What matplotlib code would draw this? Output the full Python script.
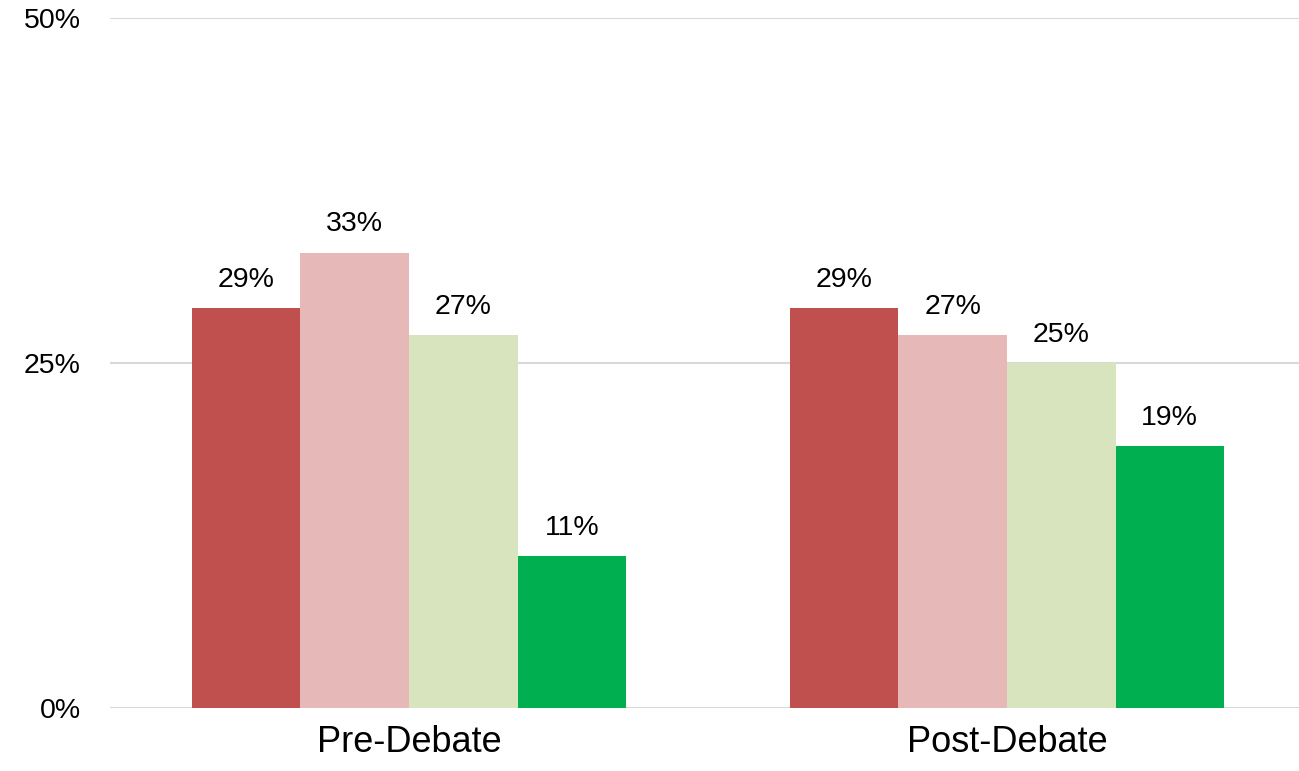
import matplotlib.pyplot as plt
import numpy as np

# data
categories = ["Pre-Debate", "Post-Debate"]
series_colors = ["#C0504D", "#E6B9B8", "#D7E4BD", "#00B050"]
values = [
    [29, 29],
    [33, 27],
    [27, 25],
    [11, 19],
]
yticks = [0, 25, 50]

plt.rcParams['font.family'] = ['Liberation Sans', 'DejaVu Sans']

fig = plt.figure(figsize=(12.99, 7.71), dpi=100)
ax = fig.add_axes([110 / 1299, 1 - 708 / 771, (1306 - 110) / 1299, (708 - 18) / 771])

x = np.arange(len(categories))
w = 0.1815
n = len(values)
for i, vals in enumerate(values):
    pos = x + (i - (n - 1) / 2) * w
    bars = ax.bar(pos, vals, w, color=series_colors[i], zorder=3)
    for b, v in zip(bars, vals):
        ax.annotate(f"{v}%", (b.get_x() + b.get_width() / 2, v),
                    xytext=(0, 11), textcoords="offset points",
                    ha="center", va="bottom", fontsize=20.5)

ax.set_xlim(-0.5, 1.5)
ax.set_ylim(0, 50)
ax.set_yticks(yticks)
ax.set_yticklabels([f"{t}%" for t in yticks], fontsize=20.5)
ax.set_xticks(x)
ax.set_xticklabels(categories, fontsize=26)
ax.tick_params(axis="y", length=0, pad=21)
ax.tick_params(axis="x", length=0, pad=12)
ax.yaxis.grid(True, color="#D9D9D9", linewidth=1.5, zorder=0)
for s in ax.spines.values():
    s.set_visible(False)

fig.savefig("out.png", dpi=100)
